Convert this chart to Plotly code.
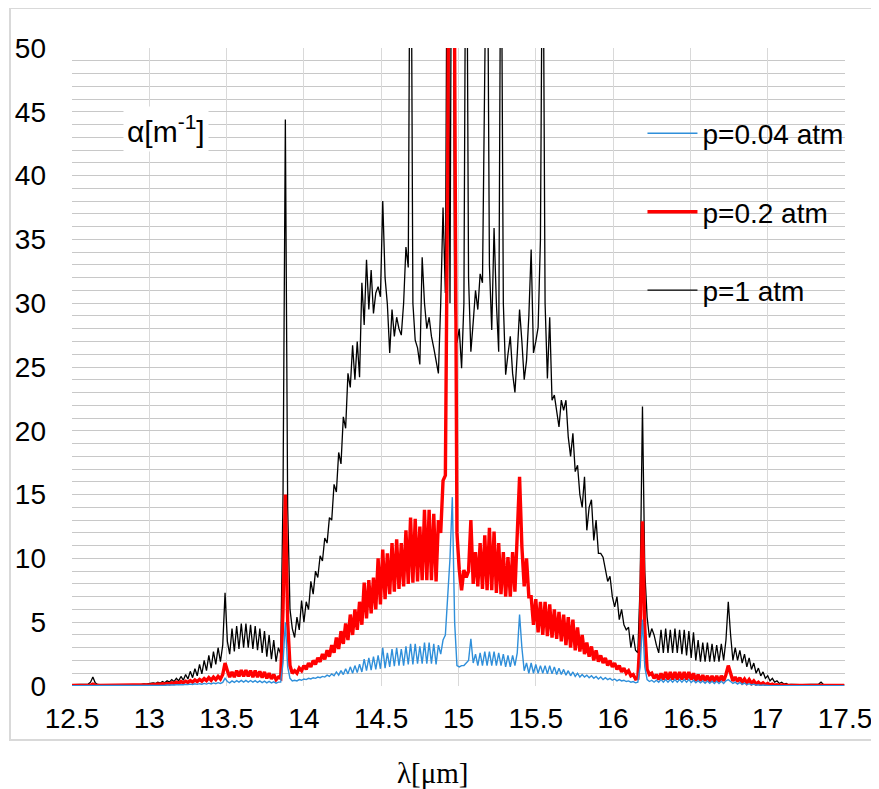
import plotly.graph_objects as go

# wavelength grid: 12.5 um start, 0.015 um step
LAM0 = 12.5
STEP = 0.015

# absorption coefficient alpha [1/m], p = 1 atm
black = [
    0.1, 0.1, 0.1, 0.1, 0.1, 0.1, 0.12, 0.15, 0.3, 0.7,
    0.25, 0.12, 0.1, 0.1, 0.1, 0.1, 0.1, 0.1, 0.1, 0.1,
    0.1, 0.1, 0.1, 0.12, 0.1, 0.12, 0.12, 0.14, 0.12, 0.15,
    0.13, 0.16, 0.14, 0.18, 0.2, 0.25, 0.2, 0.3, 0.22, 0.35,
    0.25, 0.4, 0.3, 0.5, 0.35, 0.6, 0.4, 0.75, 0.45, 0.9,
    0.55, 1.15, 0.65, 1.35, 0.8, 1.7, 0.95, 2.0, 1.2, 2.4,
    1.4, 2.7, 1.7, 3.0, 1.9, 3.2, 7.3, 3.5, 2.5, 4.5,
    2.7, 4.7, 2.9, 4.9, 3.0, 4.9, 3.0, 4.8, 2.9, 4.7,
    2.8, 4.5, 2.6, 4.3, 2.3, 4.0, 2.1, 3.6, 1.9, 3.0,
    2.5, 15.0, 44.4, 14.0, 6.0, 4.5, 3.8, 5.4, 4.4, 6.7,
    5.0, 6.6, 6.0, 8.2, 7.2, 9.0, 8.5, 10.2, 9.8, 11.6,
    11.2, 13.2, 13.0, 15.8, 15.2, 18.3, 17.4, 21.1, 20.2, 24.5,
    23.4, 26.7, 24.0, 27.0, 24.2, 31.6, 28.3, 33.4, 29.5, 32.6,
    29.2, 30.8, 31.3, 30.5, 38.0, 32.0, 29.9, 26.1, 29.5, 27.4,
    28.9, 28.0, 27.5, 30.0, 34.4, 32.8, 70.0, 30.0, 27.1, 26.5,
    25.2, 33.6, 30.0, 28.0, 28.9, 27.4, 26.5, 25.5, 24.5, 30.0,
    37.5, 30.8, 70.0, 30.0, 80.0, 30.0, 26.9, 28.0, 24.9, 30.0,
    70.0, 32.0, 26.2, 28.5, 31.0, 29.5, 32.3, 31.6, 60.0, 65.0,
    33.0, 27.9, 35.9, 30.0, 26.2, 65.0, 30.0, 24.4, 26.0, 27.4,
    24.5, 23.0, 26.0, 29.5, 27.0, 24.0, 25.5, 29.0, 34.2, 26.1,
    27.0, 28.1, 35.0, 65.0, 30.0, 24.1, 28.9, 22.4, 22.8, 21.5,
    20.3, 22.4, 21.6, 22.4, 19.5, 18.0, 19.8, 16.8, 17.3, 15.0,
    14.0, 16.4, 12.2, 14.0, 14.6, 11.4, 13.0, 10.4, 10.4, 10.1,
    9.0, 8.2, 8.6, 7.0, 6.2, 7.0, 5.2, 6.0, 4.8, 4.4,
    4.6, 3.0, 4.0, 2.8, 2.6, 8.0, 21.9, 9.0, 5.4, 3.8,
    4.5, 4.0, 3.2, 2.6, 4.4, 2.6, 4.5, 2.6, 4.4, 2.6,
    4.5, 2.6, 4.4, 2.5, 4.4, 2.4, 4.3, 2.2, 4.2, 2.0,
    3.6, 1.9, 3.4, 1.9, 3.4, 1.9, 3.3, 1.9, 3.2, 1.9,
    3.3, 2.0, 3.6, 6.6, 4.0, 2.0, 3.0, 2.0, 2.8, 1.8,
    2.5, 1.5, 2.2, 1.3, 1.8, 1.0, 1.4, 0.8, 1.1, 0.6,
    0.8, 0.4, 0.6, 0.3, 0.4, 0.2, 0.3, 0.15, 0.2, 0.1,
    0.12, 0.1, 0.1, 0.1, 0.1, 0.1, 0.1, 0.1, 0.1, 0.1,
    0.1, 0.1, 0.15, 0.3, 0.12, 0.1, 0.1, 0.1, 0.1, 0.1,
    0.1, 0.1, 0.1, 0.1,
]

# p = 0.2 atm
red = [
    0.05, 0.05, 0.05, 0.05, 0.05, 0.05, 0.05, 0.05, 0.06, 0.15,
    0.06, 0.05, 0.05, 0.05, 0.05, 0.05, 0.05, 0.05, 0.05, 0.05,
    0.05, 0.05, 0.05, 0.06, 0.05, 0.06, 0.06, 0.07, 0.06, 0.08,
    0.07, 0.09, 0.08, 0.1, 0.1, 0.12, 0.1, 0.15, 0.12, 0.18,
    0.14, 0.2, 0.16, 0.25, 0.2, 0.3, 0.22, 0.35, 0.25, 0.38,
    0.28, 0.42, 0.3, 0.48, 0.35, 0.52, 0.38, 0.58, 0.42, 0.65,
    0.45, 0.7, 0.5, 0.75, 0.55, 0.9, 1.8, 1.2, 0.7, 1.1,
    0.7, 1.2, 0.75, 1.25, 0.75, 1.25, 0.75, 1.2, 0.7, 1.2,
    0.7, 1.15, 0.65, 1.1, 0.6, 1.0, 0.55, 0.9, 0.5, 0.7,
    0.6, 6.0, 15.0, 5.0, 1.6, 1.0, 1.2, 1.0, 1.4, 1.2,
    1.6, 1.3, 1.8, 1.5, 2.0, 1.7, 2.2, 1.9, 2.5, 2.1,
    2.8, 2.3, 3.2, 2.6, 3.8, 2.9, 4.3, 3.3, 4.9, 3.6,
    5.6, 4.0, 6.0, 4.4, 6.6, 4.8, 8.1, 5.3, 8.3, 5.7,
    8.5, 6.0, 10.0, 6.4, 10.7, 6.8, 10.4, 7.2, 11.2, 7.4,
    11.5, 7.6, 11.2, 7.8, 12.2, 8.0, 13.2, 8.1, 13.1, 8.2,
    12.5, 8.3, 13.8, 8.3, 13.8, 8.3, 13.5, 8.2, 13.0, 12.0,
    16.1, 16.5, 40.0, 80.0, 80.0, 50.0, 12.0, 9.1, 7.5, 9.1,
    8.5, 9.0, 13.0, 8.0, 10.5, 7.8, 11.2, 7.6, 11.8, 7.5,
    12.4, 7.5, 12.1, 7.3, 11.2, 7.2, 10.5, 7.0, 10.1, 7.0,
    10.5, 7.4, 11.7, 16.4, 10.9, 7.8, 10.0, 7.0, 7.0, 4.8,
    6.8, 4.2, 6.6, 4.0, 6.6, 3.9, 6.4, 3.8, 6.0, 3.7,
    5.8, 3.5, 5.6, 3.2, 5.4, 3.0, 5.2, 2.8, 4.6, 2.7,
    4.0, 2.5, 3.4, 2.3, 3.1, 2.0, 2.8, 1.9, 2.4, 1.8,
    2.2, 1.6, 2.0, 1.5, 1.8, 1.3, 1.6, 1.1, 1.4, 1.0,
    1.2, 0.8, 0.9, 0.55, 0.6, 4.0, 12.9, 4.5, 1.3, 0.9,
    1.0, 0.6, 0.9, 0.5, 1.0, 0.5, 1.1, 0.5, 1.1, 0.5,
    1.1, 0.5, 1.1, 0.5, 1.1, 0.5, 1.1, 0.5, 1.0, 0.4,
    0.9, 0.4, 0.85, 0.4, 0.8, 0.35, 0.8, 0.35, 0.8, 0.35,
    0.8, 0.4, 0.9, 1.6, 1.0, 0.4, 0.7, 0.35, 0.65, 0.3,
    0.55, 0.25, 0.5, 0.2, 0.4, 0.15, 0.3, 0.12, 0.25, 0.1,
    0.2, 0.08, 0.15, 0.06, 0.1, 0.05, 0.08, 0.05, 0.05, 0.05,
    0.05, 0.05, 0.05, 0.05, 0.05, 0.05, 0.05, 0.05, 0.05, 0.05,
    0.05, 0.05, 0.05, 0.05, 0.05, 0.05, 0.05, 0.05, 0.05, 0.05,
    0.05, 0.05, 0.05, 0.05,
]

# p = 0.04 atm
blue = [
    0.02, 0.02, 0.02, 0.02, 0.02, 0.02, 0.02, 0.02, 0.02, 0.05,
    0.02, 0.02, 0.02, 0.02, 0.02, 0.02, 0.02, 0.02, 0.02, 0.02,
    0.02, 0.02, 0.02, 0.02, 0.02, 0.02, 0.02, 0.02, 0.02, 0.02,
    0.03, 0.03, 0.03, 0.04, 0.04, 0.05, 0.04, 0.06, 0.05, 0.07,
    0.06, 0.08, 0.07, 0.09, 0.08, 0.1, 0.09, 0.12, 0.1, 0.13,
    0.11, 0.15, 0.12, 0.17, 0.13, 0.18, 0.14, 0.2, 0.15, 0.22,
    0.16, 0.24, 0.18, 0.26, 0.2, 0.28, 0.6, 0.35, 0.25, 0.4,
    0.28, 0.42, 0.3, 0.44, 0.3, 0.44, 0.3, 0.43, 0.3, 0.42,
    0.28, 0.4, 0.27, 0.38, 0.25, 0.36, 0.24, 0.33, 0.22, 0.3,
    0.3, 1.8, 5.0, 1.5, 0.6, 0.4, 0.45, 0.4, 0.5, 0.45,
    0.55, 0.5, 0.6, 0.55, 0.65, 0.6, 0.7, 0.65, 0.75, 0.7,
    0.85, 0.75, 0.95, 0.8, 1.1, 0.85, 1.2, 0.9, 1.35, 0.95,
    1.5, 1.0, 1.6, 1.05, 1.7, 1.1, 2.1, 1.2, 2.2, 1.25,
    2.3, 1.3, 2.4, 1.35, 3.0, 1.4, 2.6, 1.5, 2.9, 1.55,
    3.0, 1.6, 2.9, 1.6, 3.1, 1.7, 3.3, 1.7, 3.3, 1.75,
    3.1, 1.75, 3.4, 1.75, 3.4, 1.75, 3.3, 1.7, 3.2, 2.5,
    3.6, 4.0, 7.0, 10.0, 14.8, 5.0, 1.6, 1.5, 1.6, 1.6,
    1.8, 2.0, 3.7, 1.8, 2.5, 1.6, 2.6, 1.6, 2.7, 1.6,
    2.7, 1.6, 2.7, 1.6, 2.6, 1.6, 2.5, 1.5, 2.4, 1.5,
    2.4, 1.6, 2.6, 5.6, 3.0, 1.2, 1.8, 1.0, 1.8, 1.0,
    1.7, 1.0, 1.6, 1.0, 1.6, 0.95, 1.6, 0.95, 1.5, 0.9,
    1.4, 0.9, 1.3, 0.85, 1.2, 0.8, 1.1, 0.75, 1.0, 0.7,
    0.9, 0.7, 0.85, 0.65, 0.8, 0.6, 0.75, 0.55, 0.7, 0.5,
    0.65, 0.5, 0.6, 0.45, 0.55, 0.4, 0.5, 0.4, 0.45, 0.35,
    0.4, 0.3, 0.35, 0.25, 0.3, 1.5, 5.2, 1.5, 0.5, 0.35,
    0.45, 0.3, 0.45, 0.3, 0.5, 0.3, 0.5, 0.3, 0.5, 0.3,
    0.5, 0.3, 0.5, 0.3, 0.5, 0.3, 0.5, 0.28, 0.45, 0.25,
    0.42, 0.25, 0.4, 0.22, 0.4, 0.22, 0.38, 0.2, 0.38, 0.2,
    0.38, 0.2, 0.4, 0.5, 0.35, 0.2, 0.3, 0.15, 0.28, 0.12,
    0.22, 0.1, 0.18, 0.08, 0.14, 0.06, 0.1, 0.05, 0.08, 0.04,
    0.05, 0.03, 0.04, 0.02, 0.03, 0.02, 0.02, 0.02, 0.02, 0.02,
    0.02, 0.02, 0.02, 0.02, 0.02, 0.02, 0.02, 0.02, 0.02, 0.02,
    0.02, 0.02, 0.02, 0.02, 0.02, 0.02, 0.02, 0.02, 0.02, 0.02,
    0.02, 0.02, 0.02, 0.02,
]

x_ticks = [12.5, 13, 13.5, 14, 14.5, 15, 15.5, 16, 16.5, 17, 17.5]
y_ticks = [0, 5, 10, 15, 20, 25, 30, 35, 40, 45, 50]

# legend order: top to bottom
series = [blue, red, black]
names = ["p=0.04 atm", "p=0.2 atm", "p=1 atm"]
colors = ["#2F8FDA", "#FF0000", "#000000"]
widths = [1.4, 3.4, 1.3]
zorders = [2, 1, 0]


def grid(s):
    return [round(LAM0 + STEP * i, 4) for i in range(len(s))]


FONT = "Arial, Liberation Sans, sans-serif"

fig = go.Figure()
for s, n, c, w, z in zip(series, names, colors, widths, zorders):
    fig.add_trace(go.Scatter(
        x=grid(s), y=s, mode="lines", name=n, legendgroup=n,
        line=dict(color=c, width=w), zorder=z,
    ))

fig.update_layout(
    width=871, height=781,
    margin=dict(l=64, r=34, t=40, b=103, autoexpand=False),
    paper_bgcolor="white", plot_bgcolor="white",
    font=dict(family=FONT, size=28, color="#000000"),
    showlegend=True,
    legend=dict(
        x=0.738, y=0.905, xanchor="left", yanchor="top",
        bgcolor="rgba(0,0,0,0)", traceorder="grouped",
        tracegroupgap=39, font=dict(size=28, family=FONT),
        itemwidth=50,
    ),
    xaxis=dict(
        range=[12.5, 17.5], tickvals=x_ticks,
        ticktext=[f"{v:g}" for v in x_ticks],
        showgrid=True, gridcolor="#d9d9d9", gridwidth=1.3,
        zeroline=False, showline=False, ticks="",
        ticklabelstandoff=13, automargin=False,
        tickfont=dict(size=28, family=FONT),
    ),
    yaxis=dict(
        range=[0, 50], tickvals=y_ticks,
        showgrid=True, gridcolor="#c8c8c8", gridwidth=1.3,
        minor=dict(dtick=1, showgrid=True, gridcolor="#c8c8c8", gridwidth=1.3),
        zeroline=False, showline=False, ticks="",
        ticklabelstandoff=25, automargin=False,
        tickfont=dict(size=28, family=FONT),
    ),
    shapes=[dict(
        type="rect", xref="paper", yref="paper",
        x0=-0.0802, x1=1.0414, y0=-0.0846, y1=1.0627,
        line=dict(color="#d9d9d9", width=2), fillcolor="rgba(0,0,0,0)",
        layer="below",
    )],
    annotations=[
        dict(text="α[m<sup>-1</sup>]", xref="paper", yref="paper",
             x=0.122, y=0.873, xanchor="center", yanchor="middle",
             showarrow=False, bgcolor="white",
             font=dict(size=30, family=FONT), borderpad=3),
        dict(text="λ[μm]", xref="paper", yref="paper",
             x=0.466, y=-0.136, xanchor="center", yanchor="middle",
             showarrow=False,
             font=dict(size=29, family="Liberation Serif, DejaVu Serif, serif")),
    ],
)

fig.write_html("out.html")
